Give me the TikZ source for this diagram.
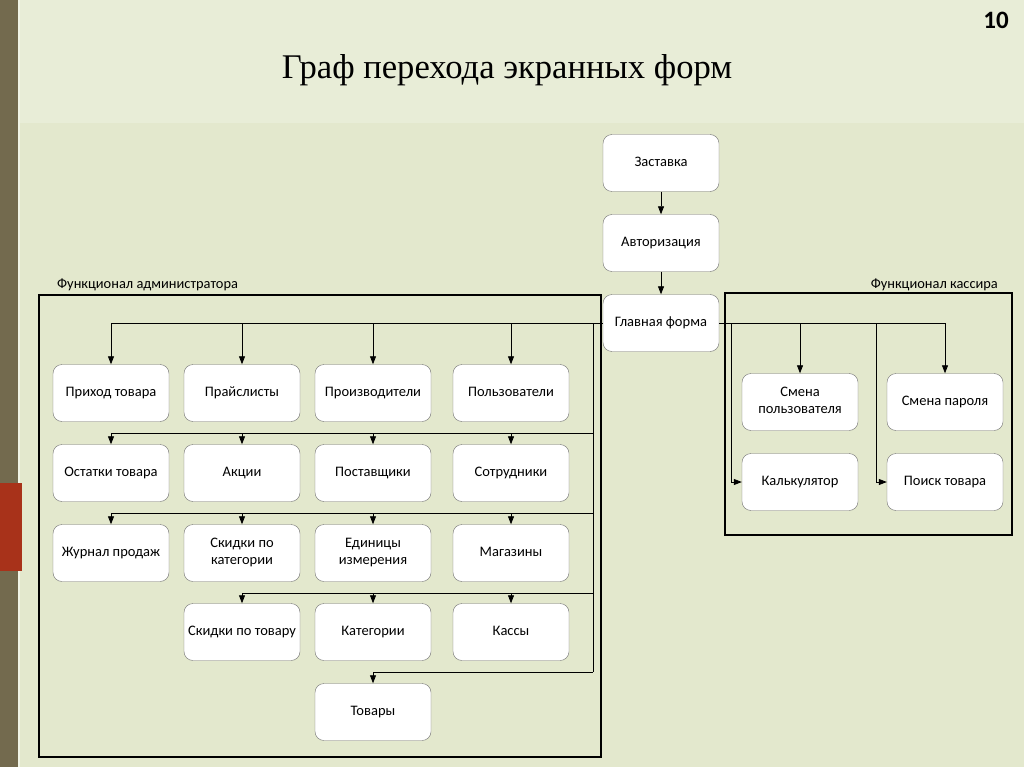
\documentclass[tikz,border=0pt]{standalone}
\usepackage{fontspec}
\setmainfont{Liberation Serif}
\newfontfamily\formfont{Carlito}
\usetikzlibrary{arrows.meta,positioning,calc}

\definecolor{slidebg}{HTML}{E3E8CD}
\definecolor{headbg}{HTML}{E8EDD7}
\definecolor{stripe}{HTML}{736A4E}
\definecolor{redmark}{HTML}{A8321A}
\definecolor{formedge}{HTML}{707070}

\tikzset{
  form/.style={draw=formedge, fill=white, rounded corners=9pt, minimum width=116pt,
    minimum height=57pt, align=center, inner sep=2pt, text depth=0.3em,
    font=\formfont\fontsize{14.5}{17}\selectfont},
  link/.style={-{Triangle[length=8pt,width=6pt]}, line width=0.8pt},
  bus/.style={line width=0.8pt},
  area/.style={draw=black, line width=2.2pt},
  arealabel/.style={font=\formfont\fontsize{14.4}{16}\selectfont, anchor=base west, inner sep=0pt}
}

\begin{document}
\begin{tikzpicture}[x=1pt,y=-1pt]
% Slide background
\fill[slidebg] (0,0) rectangle (1024,767);
\useasboundingbox (0,0) rectangle (1024,767);
\fill[headbg] (20,0) rectangle (1024,123);
\fill[stripe] (0,0) rectangle (18,767);
\fill[white!50!slidebg] (18,0) rectangle (20,767);
\fill[redmark] (0,483) rectangle (22,571);

% Title and page number
\node[font=\fontsize{34.6}{40}\selectfont] (title) at (507,70) {Граф перехода экранных форм};
\node[font=\formfont\bfseries\fontsize{25}{30}\selectfont] (pagenum) at (996,20) {10};

% Start forms
\node[form] (zast) at (661,163) {Заставка};
\node[form] (avt) at (661,243) {Авторизация};
\node[form] (glav) at (661,323) {Главная форма};
\draw[link] (zast) -- (avt);
\draw[link] (avt) -- (glav);

% Administrator area
\draw[area] (39,295) rectangle (601,757);
\node[arealabel] (adminlbl) at (57,288) {Функционал администратора};

\node[form] (prihod) at (111,393) {Приход товара};
\node[form] (price) at (242,393) {Прайслисты};
\node[form] (proizv) at (373,393) {Производители};
\node[form] (polz) at (511,393) {Пользователи};

\node[form] (ost) at (111,473) {Остатки товара};
\node[form] (akc) at (242,473) {Акции};
\node[form] (post) at (373,473) {Поставщики};
\node[form] (sotr) at (511,473) {Сотрудники};

\node[form] (zhurn) at (111,553) {Журнал продаж};
\node[form] (skidkat) at (242,553) {Скидки по\\категории};
\node[form] (edin) at (373,553) {Единицы\\измерения};
\node[form] (magaz) at (511,553) {Магазины};

\node[form] (skidtov) at (242,632) {Скидки по товару};
\node[form] (kateg) at (373,632) {Категории};
\node[form] (kass) at (511,632) {Кассы};

\node[form] (tovar) at (373,712) {Товары};

% Admin connectors
\coordinate (lvlB) at (593,433);
\coordinate (lvlC) at (593,513);
\coordinate (lvlD) at (593,593);
\coordinate (lvlE) at (593,672);
\draw[bus] (glav.west) -- (prihod.north |- glav.west);
\foreach \n in {prihod,price,proizv,polz}
    \draw[link] (\n.north |- glav.west) -- (\n.north);
\draw[bus] (glav.west -| lvlB) -- (lvlE);
\draw[bus] (lvlB) -- (ost.north |- lvlB);
\foreach \n in {ost,akc,post,sotr}
    \draw[link] (\n.north |- lvlB) -- (\n.north);
\draw[bus] (lvlC) -- (zhurn.north |- lvlC);
\foreach \n in {zhurn,skidkat,edin,magaz}
    \draw[link] (\n.north |- lvlC) -- (\n.north);
\draw[bus] (lvlD) -- (skidtov.north |- lvlD);
\foreach \n in {skidtov,kateg,kass}
    \draw[link] (\n.north |- lvlD) -- (\n.north);
\draw[bus] (lvlE) -- (tovar.north |- lvlE);
\draw[link] (tovar.north |- lvlE) -- (tovar.north);

% Cashier area
\draw[area] (725,293) rectangle (1012,535);
\node[arealabel, anchor=base east] (kasslbl) at (998,288) {Функционал кассира};

\node[form] (smpolz) at (800,402) {Смена\\пользователя};
\node[form] (smpar) at (945,402) {Смена пароля};
\node[form] (kalk) at (800,482) {Калькулятор};
\node[form] (poisk) at (945,482) {Поиск товара};

% Cashier connectors
\coordinate (kalkdrop) at (731,0);
\coordinate (poiskdrop) at (876,0);
\draw[bus] (glav.east) -- (smpar.north |- glav.east);
\foreach \n in {smpolz,smpar}
    \draw[link] (\n.north |- glav.east) -- (\n.north);
\draw[link] (glav.east -| kalkdrop) |- (kalk.west);
\draw[link] (glav.east -| poiskdrop) |- (poisk.west);
\end{tikzpicture}
\end{document}
